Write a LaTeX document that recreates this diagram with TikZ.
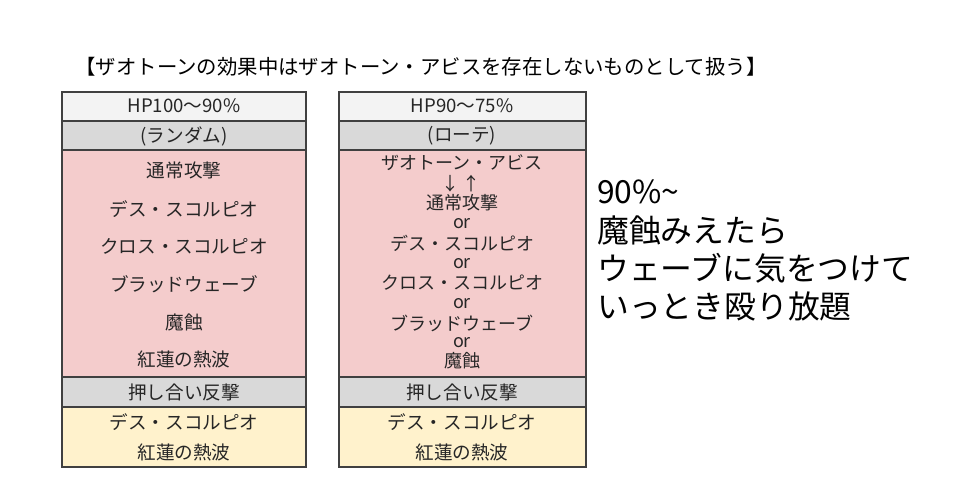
\documentclass[tikz,border=0pt]{standalone}
\usepackage{fontspec}
\setmainfont{Noto Sans CJK JP}

\begin{document}
\begin{tikzpicture}[x=1pt, y=-1pt]
    \def\cellFont{\fontsize{18.6}{20}\selectfont}
    \def\smallFont{\fontsize{18}{19}\selectfont}

    \definecolor{borderColour}{HTML}{404040}
    \definecolor{textColour}{HTML}{262626}
    \definecolor{headColour}{HTML}{F3F3F3}
    \definecolor{greyColour}{HTML}{D9D9D9}
    \definecolor{pinkColour}{HTML}{F4CCCC}
    \definecolor{creamColour}{HTML}{FFF2CC}

    \tikzset{
        cell/.style={draw=borderColour, line width=1.3pt},
        label/.style={inner sep=0pt, text=textColour, font=\cellFont},
        small/.style={inner sep=0pt, text=textColour, font=\smallFont},
        note/.style={inner sep=0pt, anchor=west, text=black, font=\fontsize{31.8}{34}\selectfont}
    }

    \useasboundingbox (0,0) rectangle (964,486);

    % Title
    \node[inner sep=0pt, text=black, font=\fontsize{20.4}{22}\selectfont] (title) at (421,67) {【ザオトーンの効果中はザオトーン・アビスを存在しないものとして扱う】};

    % Left table
    \filldraw[cell, fill=headColour] (62,92) rectangle (306,121);
    \filldraw[cell, fill=greyColour] (62,121) rectangle (306,150);
    \filldraw[cell, fill=pinkColour] (62,150) rectangle (306,377);
    \filldraw[cell, fill=greyColour] (62,377) rectangle (306,407);
    \filldraw[cell, fill=creamColour] (62,407) rectangle (306,467);

    \node[label] (hpA) at (184,106) {HP100〜90\%};
    \node[label] (modeA) at (184,136) {(ランダム)};
    \node[label] (atkA1) at (184,170) {通常攻撃};
    \node[label] (atkA2) at (184,209) {デス・スコルピオ};
    \node[label] (atkA3) at (184,246) {クロス・スコルピオ};
    \node[label] (atkA4) at (184,284) {ブラッドウェーブ};
    \node[label] (atkA5) at (184,322) {魔蝕};
    \node[label] (atkA6) at (184,359) {紅蓮の熱波};
    \node[label] (pushA) at (184,392) {押し合い反撃};
    \node[label] (backA1) at (184,422) {デス・スコルピオ};
    \node[label] (backA2) at (184,452) {紅蓮の熱波};

    % Right table
    \filldraw[cell, fill=headColour] (339,92) rectangle (586,121);
    \filldraw[cell, fill=greyColour] (339,121) rectangle (586,150);
    \filldraw[cell, fill=pinkColour] (339,150) rectangle (586,377);
    \filldraw[cell, fill=greyColour] (339,377) rectangle (586,407);
    \filldraw[cell, fill=creamColour] (339,407) rectangle (586,467);

    \node[label] (hpB) at (462,106) {HP90〜75\%};
    \node[label] (modeB) at (462,136) {(ローテ)};
    \node[small] (atkB1) at (462,163) {ザオトーン・アビス};
    \node[small] (arrows) at (461,184) {↓\,↑};
    \node[small] (atkB2) at (462,203) {通常攻撃};
    \node[small] (orB1) at (462,224) {or};
    \node[small] (atkB3) at (462,243) {デス・スコルピオ};
    \node[small] (orB2) at (462,264) {or};
    \node[small] (atkB4) at (462,283) {クロス・スコルピオ};
    \node[small] (orB3) at (462,304) {or};
    \node[small] (atkB5) at (462,323) {ブラッドウェーブ};
    \node[small] (orB4) at (462,343) {or};
    \node[small] (atkB6) at (462,361) {魔蝕};
    \node[label] (pushB) at (462,392) {押し合い反撃};
    \node[label] (backB1) at (462,422) {デス・スコルピオ};
    \node[label] (backB2) at (462,452) {紅蓮の熱波};

    % Note on the right
    \node[note] (note1) at (597,192) {90\%\textasciitilde};
    \node[note] (note2) at (597,230) {魔蝕みえたら};
    \node[note] (note3) at (597,268) {ウェーブに気をつけて};
    \node[note] (note4) at (597,306) {いっとき殴り放題};

\end{tikzpicture}
\end{document}
